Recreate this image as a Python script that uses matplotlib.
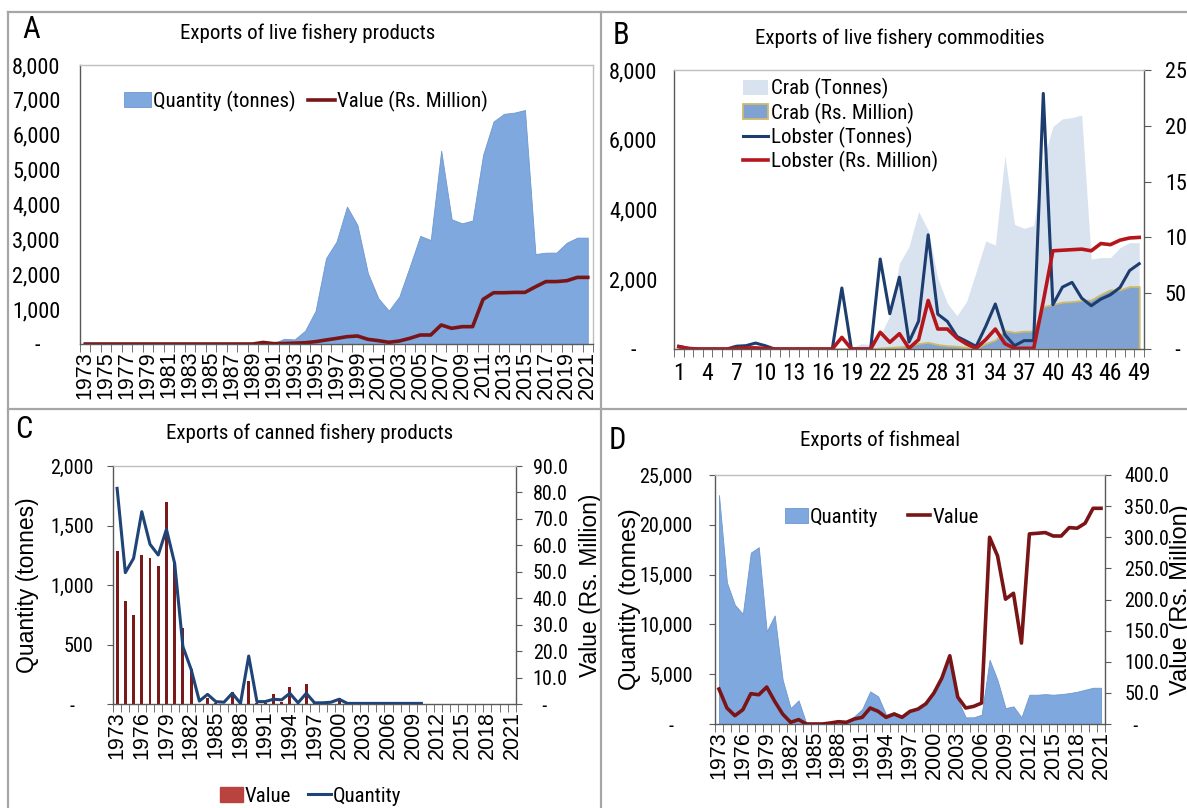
import matplotlib
matplotlib.use('Agg')
import matplotlib.pyplot as plt
import numpy as np
from matplotlib import font_manager
from matplotlib.lines import Line2D
from matplotlib.patches import Patch
from matplotlib.ticker import FuncFormatter

W, H = 1187, 808

years = list(range(1973, 2022))
commodity_idx = list(range(1, 50))

# A - live fishery products
live_qty = [0, 0, 0, 0, 0, 0, 0, 0, 0, 0, 0, 0, 0, 0, 0, 0, 0,
            30, 20, 150, 130, 380, 950, 2460, 2935, 3940, 3410, 2030, 1310, 955,
            1360, 2220, 3100, 2980, 5545, 3575, 3460, 3540, 5420, 6380, 6600, 6635,
            6710, 2580, 2620, 2620, 2905, 3050, 3050]
live_val = [0, 0, 0, 0, 0, 0, 0, 0, 0, 0, 0, 0, 0, 0, 0, 0, 0,
            45, 10, 15, 25, 35, 67, 115, 160, 210, 230, 134, 96, 48,
            86, 163, 258, 258, 545, 450, 497, 497, 1280, 1470, 1470, 1480,
            1480, 1640, 1790, 1790, 1815, 1910, 1910]

# B - live fishery commodities
crab_tonnes = [0, 0, 0, 0, 0, 0, 0, 0, 0, 0, 0, 0, 0, 0, 0, 0, 0,
               30, 20, 150, 130, 380, 950, 2460, 2935, 3940, 3410, 2030, 1310, 955,
               1360, 2220, 3100, 2980, 5545, 3575, 3460, 3540, 5420, 6380, 6600, 6635,
               6710, 2580, 2620, 2620, 2905, 3050, 3050]
crab_rs = [0, 0, 0, 0, 0, 0, 0, 0, 0, 0, 0, 0, 0, 0, 0, 0, 0, 0, 0, 0, 0,
           1, 1.5, 2, 3, 5, 6, 4, 3, 2.5, 1.5, 1, 5, 8, 16.5, 15, 16, 16,
           38, 40, 42, 42.5, 43.5, 44, 49, 53, 53, 56, 56]
lobster_tonnes = [80, 20, 0, 0, 0, 0, 80, 95, 170, 95, 0, 0, 0, 0, 0, 0, 0,
                  1750, 0, 0, 0, 2580, 1010, 2060, 200, 800, 3275, 1000, 790, 360,
                  220, 76, 650, 1290, 410, 95, 240, 240, 7330, 1270, 1775, 1910,
                  1460, 1240, 1430, 1555, 1765, 2250, 2445]
lobster_rs = [2, 0.5, 0, 0, 0, 0, 0.5, 1, 1, 0.5, 0, 0, 0, 0, 0, 0, 0,
              10.4, 0, 0, 0, 15, 6, 13.7, 0.6, 8.4, 43.5, 17.9, 17.9, 9.8,
              4.5, 0.6, 8.4, 17.9, 4.8, 0.6, 0.6, 0.6, 42.7, 88, 88.5, 89,
              89.5, 88, 94.5, 93.5, 97.5, 99.5, 100]

# C - canned fishery products
canned_val = [58.0, 38.9, 33.7, 56.2, 55.3, 52.1, 76.3, 53.7, 28.7, 13.2,
              0, 2.4, 0.3, 0, 4.7, 0, 8.8, 0.3, 0.3, 3.7, 0.9, 6.3, 0.3, 7.6,
              0.3, 0, 0, 2.1, 0, 0, 0, 0, 0, 0, 0, 0, 0, 0, 0, 0, 0, 0, 0, 0,
              0, 0, 0, 0, 0]
canned_qty = [1812, 1104, 1224, 1616, 1342, 1252, 1468, 1180, 482, 291,
              25, 81, 20, 15, 90, 5, 403, 20, 20, 40, 35, 90, 10, 90,
              10, 10, 15, 40, 5, 5, 5, 5, 5, 5, 5, 5, 5, 5,
              np.nan, np.nan, np.nan, np.nan, np.nan, np.nan, np.nan, np.nan,
              np.nan, np.nan, np.nan]

# D - fishmeal
fishmeal_qty = [22990, 14200, 11960, 11060, 17210, 17750, 9290, 10900, 4440, 1600,
                2370, 0, 0, 0, 0, 100, 170, 770, 1500, 3275, 2770, 935, 1200, 835,
                1270, 1600, 2170, 3400, 4780, 6800, 2440, 670, 670, 940, 6450, 4400,
                1600, 1770, 670, 2940, 2940, 3000, 2940, 3000, 3100, 3240, 3440,
                3640, 3640]
fishmeal_val = [56.2, 25.7, 13.4, 23, 48.7, 47, 59.4, 36.4, 16, 2.7,
                7, 0, 0, 0, 1.6, 3.7, 2.7, 8, 10.7, 25.7, 20.3, 10.7, 16, 10.7,
                20.3, 24, 32.6, 49.7, 73.8, 109.6, 43.3, 25.7, 28.3, 33.7, 300, 270,
                200.5, 210, 130, 305.4, 306.4, 307.5, 302, 302, 315.5, 314.5, 322.5,
                346.5, 346.5]

AREA = '#7fa8df'
DARK_RED = '#7a1517'
AXIS = '#595959'
BORDER = '#bfbfbf'

# pick the narrowest sans available (reference uses Arial Narrow)
fonts = font_manager.fontManager.ttflist
names = {f.name for f in fonts}
if 'Liberation Sans Narrow' in names:
    NARROW, STRETCH = 'Liberation Sans Narrow', 'normal'
elif 'Roboto Condensed' in names:
    NARROW, STRETCH = 'Roboto Condensed', 'normal'
elif any(f.name == 'DejaVu Sans' and f.stretch == 'condensed' for f in fonts):
    NARROW, STRETCH = 'DejaVu Sans', 'condensed'
else:
    NARROW, STRETCH = 'Roboto', 'normal'
REGULAR = 'Liberation Sans'
plt.rcParams['font.family'] = [NARROW, 'DejaVu Sans']
plt.rcParams['font.stretch'] = STRETCH

YEAR_SIZE = 15.5
TICK_SIZE = 16
SMALL_TICK = 14.5
TITLE_SIZE = 15
LEGEND_SIZE = 15
LETTER_SIZE = 22
YLABEL_SIZE = 16.5


def box(left, top, right, bottom):
    return [left / W, 1 - bottom / H, (right - left) / W, (bottom - top) / H]


def fig_text(fig, x, y, s, **kw):
    fig.text(x / W, 1 - y / H, s, **kw)


def zero_dash(fmt, dash):
    return FuncFormatter(lambda v, pos: dash if abs(v) < 1e-9 else fmt.format(v))


def style_frame(ax, right_axis=False):
    ax.spines['left'].set_color(AXIS)
    ax.spines['bottom'].set_color(AXIS)
    ax.spines['top'].set_color(BORDER)
    ax.spines['right'].set_color(AXIS if right_axis else BORDER)
    for s in ax.spines.values():
        s.set_linewidth(1.0)
    ax.tick_params(axis='y', length=4, color=AXIS, labelsize=TICK_SIZE, pad=3)


def category_axis(ax, n, step, first, pad=5):
    ax.set_xlim(first - 0.5, first + n - 0.5)
    ticks = list(range(first, first + n, step))
    ax.set_xticks(ticks)
    ax.set_xticks(np.arange(first - 0.5, first + n), minor=True)
    ax.tick_params(axis='x', which='major', length=0, pad=pad)
    ax.tick_params(axis='x', which='minor', length=6, direction='out', color=AXIS)
    return ticks


def year_labels(ax, step):
    ticks = category_axis(ax, len(years), step, 0)
    ax.set_xticklabels([str(years[t]) for t in ticks], rotation=90,
                       fontsize=YEAR_SIZE, family=REGULAR)


def main():
    fig = plt.figure(figsize=(W / 100, H / 100), dpi=100)

    # panel borders
    for (x0, y0, x1, y1) in [(8, 12, 1187, 12), (8, 12, 8, 808), (601, 12, 601, 808), (8, 409, 1187, 409)]:
        fig.add_artist(Line2D([x0 / W, x1 / W], [1 - y0 / H, 1 - y1 / H],
                              transform=fig.transFigure, color='#a6a6a6', lw=1.6))

    # ---------- A ----------
    ax = fig.add_axes(box(80, 65, 593, 344))
    x = np.arange(len(years))
    ax.fill_between(x, live_qty, color=AREA, edgecolor='#6f97cf', lw=0.6, label='Quantity (tonnes)')
    ax.plot(x, live_val, color=DARK_RED, lw=2.6, label='Value (Rs. Million)')
    ax.set_ylim(0, 8000)
    ax.set_yticks(range(0, 8001, 1000))
    ax.yaxis.set_major_formatter(zero_dash('{:,.0f}', '-    '))
    style_frame(ax)
    ax.tick_params(axis='y', length=0, pad=14)
    year_labels(ax, 2)
    ax.legend(loc='center', bbox_to_anchor=(0.44, 0.871), ncol=2, frameon=False, fontsize=LEGEND_SIZE,
              handlelength=1.3, handletextpad=0.1, columnspacing=0.6, borderaxespad=0)
    fig_text(fig, 308, 33, 'Exports of live fishery products', ha='center', va='center', fontsize=TITLE_SIZE)
    fig_text(fig, 31, 30, 'A', ha='center', va='center', fontsize=LETTER_SIZE)

    # ---------- B ----------
    ax = fig.add_axes(box(674, 70, 1144, 349))
    ax2 = ax.twinx()
    ax.set_ylim(0, 8000)
    ax2.set_ylim(0, 250)
    ax.set_zorder(ax2.get_zorder() + 1)
    ax.patch.set_visible(False)
    k = np.array(commodity_idx)
    h1 = ax.fill_between(k, crab_tonnes, color='#d9e3f0', lw=0, label='Crab (Tonnes)')
    h2 = ax.fill_between(k, crab_rs, color='#7fa2d2', edgecolor='#cdbb6a', lw=1.3,
                         transform=ax2.transData, label='Crab (Rs. Million)')
    h3, = ax.plot(k, lobster_tonnes, color='#1c3d6e', lw=2.2, label='Lobster (Tonnes)')
    h4, = ax.plot(k, lobster_rs, color='#b5161b', lw=2.6, transform=ax2.transData,
                  label='Lobster (Rs. Million)')
    ax.set_yticks(range(0, 8001, 2000))
    ax.yaxis.set_major_formatter(zero_dash('{:,.0f}', '-    '))
    ax2.set_yticks(range(0, 251, 50))
    ax2.yaxis.set_major_formatter(zero_dash('{:,.0f}', '  -'))
    style_frame(ax, right_axis=True)
    for s in ax2.spines.values():
        s.set_visible(False)
    ax2.tick_params(axis='y', length=5, color=AXIS, labelsize=TICK_SIZE, pad=10)
    ax.tick_params(axis='y', length=0, pad=12)
    ticks = category_axis(ax, 49, 3, 1, pad=9)
    ax.set_xticklabels([str(t) for t in ticks], fontsize=17)
    ax2.set_xlim(ax.get_xlim())
    ax.legend([h1, h2, h3, h4], [h.get_label() for h in (h1, h2, h3, h4)],
              loc='upper left', bbox_to_anchor=(0.13, 1.0), frameon=False, fontsize=LEGEND_SIZE,
              handlelength=1.2, handletextpad=0.1, labelspacing=0.15, borderaxespad=0)
    fig_text(fig, 900, 38, 'Exports of live fishery commodities', ha='center', va='center', fontsize=TITLE_SIZE)
    fig_text(fig, 621, 35, 'B', ha='center', va='center', fontsize=LETTER_SIZE)

    # ---------- C ----------
    ax = fig.add_axes(box(113, 466, 516, 704))
    ax_q = ax.twinx()
    x = np.arange(len(years))
    ax.bar(x, canned_val, width=0.35, color='#7b1a1a')
    ax.set_ylim(0, 90)
    ax.set_yticks(range(0, 91, 10))
    ax.yaxis.tick_right()
    ax.yaxis.set_label_position('right')
    ax.yaxis.set_major_formatter(zero_dash('{:.1f}', '  -'))
    ax_q.plot(x, canned_qty, color='#1f4477', lw=2.2)
    ax_q.set_ylim(0, 2000)
    ax_q.set_yticks(range(0, 2001, 500))
    ax_q.yaxis.tick_left()
    ax_q.yaxis.set_label_position('left')
    ax_q.yaxis.set_major_formatter(zero_dash('{:,.0f}', '-    '))
    style_frame(ax, right_axis=True)
    for s in ax_q.spines.values():
        s.set_visible(False)
    ax.tick_params(axis='y', length=4, labelsize=SMALL_TICK, pad=8)
    ax_q.tick_params(axis='y', length=4, color=AXIS, labelsize=SMALL_TICK, pad=10)
    year_labels(ax, 3)
    ax_q.set_xlim(ax.get_xlim())
    ax_q.set_ylabel('Quantity (tonnes)', family=REGULAR, fontsize=YLABEL_SIZE, va='center')
    ax_q.yaxis.set_label_coords(-0.211, 0.5)
    ax.set_ylabel('Value (Rs. Million)', family=REGULAR, fontsize=YLABEL_SIZE, va='center')
    ax.yaxis.set_label_coords(1.184, 0.5)
    ax.legend([Patch(color='#b8433f'), Line2D([], [], color='#1f4477', lw=2.2)], ['Value', 'Quantity'],
              loc='center', bbox_to_anchor=(0.49, -0.387), ncol=2, frameon=False, fontsize=LEGEND_SIZE,
              handlelength=1.1, handletextpad=0.1, columnspacing=0.8, borderaxespad=0)
    fig_text(fig, 310, 433, 'Exports of canned fishery products', ha='center', va='center', fontsize=TITLE_SIZE)
    fig_text(fig, 24, 430, 'C', ha='center', va='center', fontsize=LETTER_SIZE)

    # ---------- D ----------
    ax = fig.add_axes(box(715, 475, 1105, 724))
    ax_v = ax.twinx()
    x = np.arange(len(years))
    ax.fill_between(x, fishmeal_qty, color=AREA, edgecolor='#6f97cf', lw=0.6, label='Quantity')
    ax_v.plot(x, fishmeal_val, color=DARK_RED, lw=2.6, label='Value')
    ax.set_ylim(0, 25000)
    ax.set_yticks(range(0, 25001, 5000))
    ax.yaxis.set_major_formatter(zero_dash('{:,.0f}', '-    '))
    ax_v.set_ylim(0, 400)
    ax_v.set_yticks(range(0, 401, 50))
    ax_v.yaxis.set_major_formatter(zero_dash('{:.1f}', '  -'))
    style_frame(ax, right_axis=True)
    for s in ax_v.spines.values():
        s.set_visible(False)
    ax.tick_params(axis='y', labelsize=SMALL_TICK, pad=12)
    ax_v.tick_params(axis='y', length=4, color=AXIS, labelsize=SMALL_TICK, pad=10)
    year_labels(ax, 3)
    ax_v.set_xlim(ax.get_xlim())
    ax.set_ylabel('Quantity (tonnes)', family=REGULAR, fontsize=17, va='center')
    ax.yaxis.set_label_coords(-0.218, 0.5)
    ax_v.set_ylabel('Value (Rs. Million)', family=REGULAR, fontsize=17, va='center')
    ax_v.yaxis.set_label_coords(1.195, 0.5)
    handles = [ax.collections[0], ax_v.lines[0]]
    ax_v.legend(handles, ['Quantity', 'Value'], loc='center', bbox_to_anchor=(0.428, 0.831), ncol=2,
                frameon=False, fontsize=LEGEND_SIZE, handlelength=1.1, handletextpad=0.1, columnspacing=1.4,
                borderaxespad=0)
    fig_text(fig, 880, 440, 'Exports of fishmeal', ha='center', va='center', fontsize=TITLE_SIZE)
    fig_text(fig, 617, 440, 'D', ha='center', va='center', fontsize=LETTER_SIZE)

    fig.savefig('out.png', dpi=100)


main()
